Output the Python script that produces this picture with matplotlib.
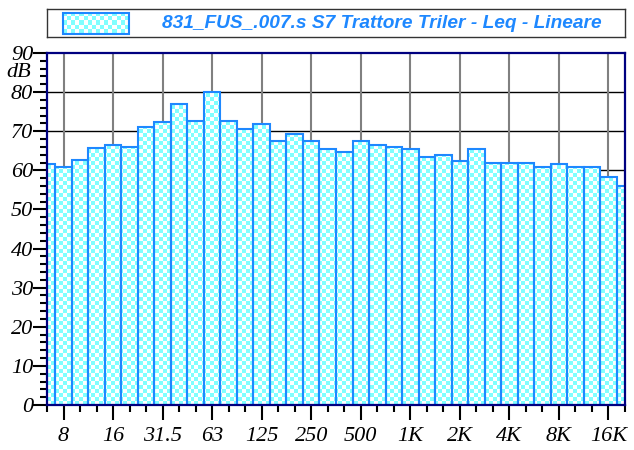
import numpy as np
import matplotlib
matplotlib.use("Agg")
import matplotlib.pyplot as plt
from matplotlib.colors import ListedColormap
from matplotlib.path import Path
from matplotlib.patches import PathPatch, Rectangle

# --- DATA ---
BANDS = ["6.3", "8", "10", "12.5", "16", "20", "25", "31.5", "40", "50", "63", "80",
         "100", "125", "160", "200", "250", "315", "400", "500", "630", "800",
         "1K", "1.25K", "1.6K", "2K", "2.5K", "3.15K", "4K", "5K", "6.3K", "8K",
         "10K", "12.5K", "16K", "20K"]
LEVELS = [61.5, 60.9, 62.6, 65.6, 66.6, 66.0, 71.2, 72.3, 76.9, 72.7, 80.0, 72.7,
          70.6, 71.8, 67.6, 69.2, 67.6, 65.5, 64.8, 67.5, 66.5, 65.9,
          65.4, 63.3, 64.0, 62.5, 65.4, 61.9, 61.9, 61.9, 60.9, 61.5,
          60.8, 60.8, 58.4, 55.9]
TICK_LABELS = ["8", "16", "31.5", "63", "125", "250", "500", "1K", "2K", "4K", "8K", "16K"]
TITLE = "831_FUS_.007.s S7 Trattore Triler - Leq - Lineare"

# --- STYLE ---
CYAN = "#80FFFF"
EDGE = "#1E88FF"
NAVY = "#000080"
SERIF = ["Liberation Serif", "DejaVu Serif"]
LABEL_SIZE = 16
checker_cmap = ListedColormap([CYAN, "white"])


def checker(nx, ny):
    i, j = np.indices((ny, nx))
    return (i + j) % 2


fig = plt.figure(figsize=(6.34, 4.5), dpi=100)
ax = fig.add_axes([47 / 634, 45 / 450, 578 / 634, 352 / 450])

x = np.arange(len(BANDS))
bars = ax.bar(x, LEVELS, width=1.0, facecolor="none", edgecolor=EDGE, linewidth=1.5, zorder=4)

# checkerboard fill clipped to the bars
paths = [b.get_path().transformed(b.get_patch_transform()) for b in bars]
clip = PathPatch(Path.make_compound_path(*paths), transform=ax.transData,
                 facecolor="none", edgecolor="none")
im = ax.imshow(checker(145, 88), extent=(0, 35, 0, 90), aspect="auto",
               interpolation="nearest", cmap=checker_cmap, zorder=3)
im.set_clip_path(clip)

ax.set_xlim(0, 35)
ax.set_ylim(0, 90)

# grid
for v in range(10, 90, 10):
    ax.axhline(v, color="black", lw=1.0, zorder=1)
major_idx = [BANDS.index(t) for t in TICK_LABELS]
for i in major_idx:
    ax.axvline(i, color="#808080", lw=1.5, zorder=1)

# ticks
ax.set_xticks(major_idx)
ax.set_xticklabels(TICK_LABELS, family=SERIF, style="italic", fontsize=LABEL_SIZE)
ax.set_xticks(x, minor=True)
ax.set_yticks(range(0, 91, 10))
ax.set_yticklabels([str(v) for v in range(0, 91, 10)], family=SERIF, style="italic",
                   fontsize=LABEL_SIZE)
ax.set_yticks(range(0, 91, 2), minor=True)
ax.tick_params(axis="x", which="major", length=11, width=1.5, pad=5, color="black")
ax.tick_params(axis="x", which="minor", length=5, width=1.5, color="black")
ax.tick_params(axis="y", which="major", length=10, width=1.5, pad=0, color="black")
ax.tick_params(axis="y", which="minor", length=5, width=1.5, color="black")
ax.text(-16 / 578, 85, "dB", family=SERIF, style="italic", fontsize=LABEL_SIZE,
        ha="right", va="center", transform=ax.get_yaxis_transform())

for s in ax.spines.values():
    s.set_color(NAVY)
    s.set_linewidth(1.6)
    s.set_zorder(5)

# legend box
lax = fig.add_axes([47 / 634, 1 - 37 / 450, 578 / 634, 28 / 450])
lax.set_xticks([])
lax.set_yticks([])
for s in lax.spines.values():
    s.set_color("#333333")
    s.set_linewidth(1.0)
lax.imshow(checker(16, 5), extent=(16, 82, 3.5, 24), aspect="auto",
           interpolation="nearest", cmap=checker_cmap)
lax.add_patch(Rectangle((16, 3.5), 66, 20.5, facecolor="none", edgecolor=EDGE, lw=1.5))
lax.set_xlim(0, 578)
lax.set_ylim(0, 28)
lax.text(115, 14, TITLE, color=EDGE, family=["Liberation Sans", "DejaVu Sans"],
         weight="bold", style="italic", fontsize=13.8, ha="left", va="center")

fig.savefig("out.png", dpi=100)
